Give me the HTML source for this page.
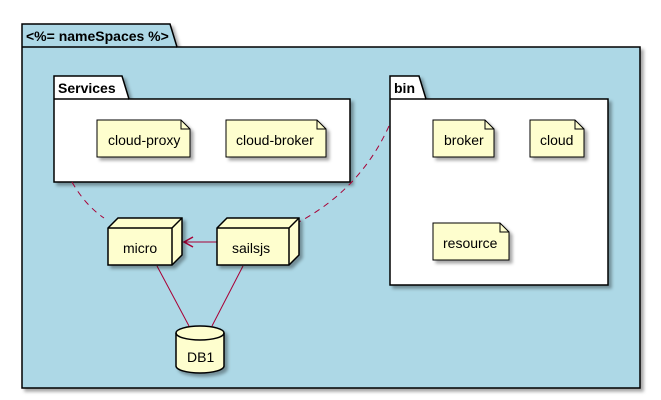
<!DOCTYPE html>
<html><head><meta charset="utf-8"><style>
html,body{margin:0;padding:0;background:#fff;width:661px;height:400px;overflow:hidden}
text{font-family:"Liberation Sans",sans-serif}
</style></head><body>
<svg width="661" height="400" viewBox="0 0 661 400" xmlns="http://www.w3.org/2000/svg">
<defs><filter id="sh" x="-10%" y="-10%" width="130%" height="130%"><feDropShadow dx="3" dy="3" stdDeviation="1.5" flood-color="#000" flood-opacity="0.35"/></filter></defs>
<g filter="url(#sh)">
<path d="M22,47 L22,24 L170,24 L177,47 L640,47 L640,388 L22,388 Z" fill="#ADD8E6" stroke="#000" stroke-width="1.5"/>
</g>
<line x1="22" y1="47" x2="177" y2="47" stroke="#000" stroke-width="1.5"/>
<text x="26" y="41" font-size="14" font-weight="bold">&lt;%= nameSpaces %&gt;</text>
<g filter="url(#sh)">
<path d="M54,99 L54,76 L122,76 L129,99 L350,99 L350,182 L54,182 Z" fill="#fff" stroke="#000" stroke-width="1.5"/>
</g>
<line x1="54" y1="99" x2="129" y2="99" stroke="#000" stroke-width="1.5"/>
<text x="58" y="93" font-size="14" font-weight="bold">Services</text>
<g filter="url(#sh)">
<path d="M390,99 L390,76 L419,76 L426,99 L608,99 L608,285 L390,285 Z" fill="#fff" stroke="#000" stroke-width="1.5"/>
</g>
<line x1="390" y1="99" x2="426" y2="99" stroke="#000" stroke-width="1.5"/>
<text x="394" y="93" font-size="14" font-weight="bold">bin</text>
<g fill="#000" stroke="#000" stroke-width="1">
<g filter="url(#sh)">
<path d="M97,120 L181,120 L190,129 L190,157 L97,157 Z" fill="#FEFECE"/>
<path d="M226,120 L317,120 L326,129 L326,157 L226,157 Z" fill="#FEFECE"/>
<path d="M433,120 L485,120 L494,129 L494,157 L433,157 Z" fill="#FEFECE"/>
<path d="M530,120 L575,120 L584,129 L584,157 L530,157 Z" fill="#FEFECE"/>
<path d="M433,223 L500,223 L509,232 L509,260 L433,260 Z" fill="#FEFECE"/>
</g>
<path d="M181,120 L181,129 L190,129 M317,120 L317,129 L326,129 M485,120 L485,129 L494,129 M575,120 L575,129 L584,129 M500,223 L500,232 L509,232" fill="none"/>
</g>
<g font-size="14" fill="#000">
<text x="108" y="145">cloud-proxy</text>
<text x="236" y="145">cloud-broker</text>
<text x="444" y="145">broker</text>
<text x="540" y="145">cloud</text>
<text x="443" y="248">resource</text>
</g>
<path d="M72,182 Q85,205 104,218" fill="none" stroke="#A80036" stroke-width="1" stroke-dasharray="6,5"/>
<path d="M389,126 Q360,190 297,223" fill="none" stroke="#A80036" stroke-width="1" stroke-dasharray="6,5"/>
<line x1="157" y1="266" x2="189" y2="326" stroke="#A80036" stroke-width="1"/>
<line x1="243" y1="266" x2="212" y2="326" stroke="#A80036" stroke-width="1"/>
<line x1="217" y1="242" x2="184" y2="242" stroke="#A80036" stroke-width="1"/>
<path d="M193,237 L184,242 L193,247" fill="none" stroke="#A80036" stroke-width="1.5"/>
<g stroke="#000" stroke-width="1.5" fill="#FEFECE">
<g filter="url(#sh)">
<path d="M108,228 L118,218 L182,218 L182,255 L172,265 L108,265 Z"/>
<path d="M217,228 L227,218 L299,218 L299,255 L289,265 L217,265 Z"/>
</g>
<path d="M108,228 L172,228 L172,265 M172,228 L182,218" fill="none"/>
<path d="M217,228 L289,228 L289,265 M289,228 L299,218" fill="none"/>
<g filter="url(#sh)">
<path d="M176,333 A24,7 0 0 1 224,333 L224,366 A24,7 0 0 1 176,366 Z"/>
</g>
<path d="M176,333 A24,7 0 0 0 224,333" fill="none"/>
</g>
<g font-size="14" fill="#000">
<text x="123" y="253">micro</text>
<text x="232" y="253">sailsjs</text>
<text x="187" y="362">DB1</text>
</g>
</svg>
</body></html>
